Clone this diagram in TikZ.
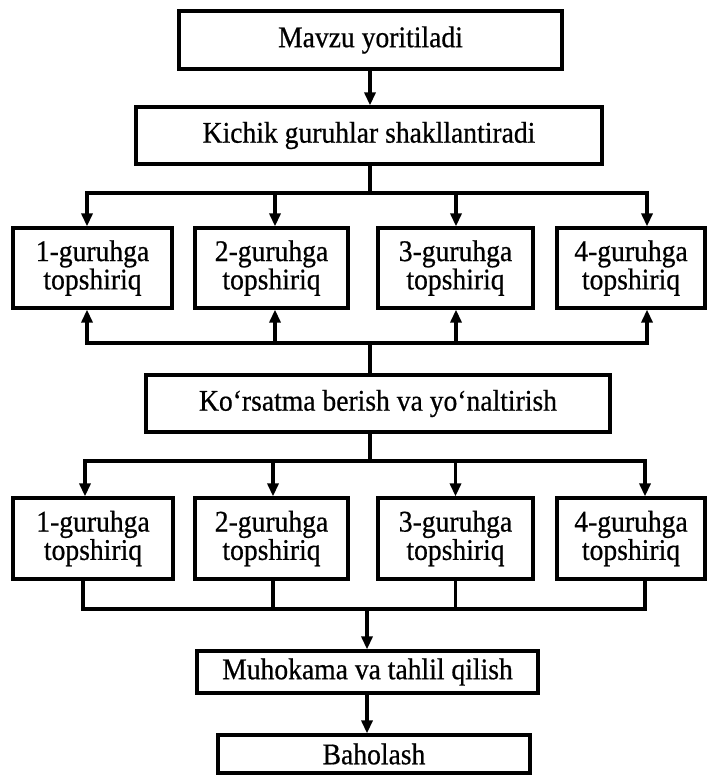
\documentclass[tikz,border=0pt]{standalone}
\usepackage{fontspec}
\setmainfont[FakeStretch=0.92,FakeBold=0.6]{Liberation Serif}
\usetikzlibrary{arrows.meta}
\begin{document}
\begin{tikzpicture}[x=1pt,y=-1pt,
  box/.style={draw,line width=3.2pt,inner sep=0pt,align=center,
    font=\fontsize{30}{25}\selectfont},
  conn/.style={line width=3.2pt},
  arr/.style={conn,-{Triangle[width=11pt,length=13pt]}}]
\useasboundingbox (0,0) rectangle (710,775);
% boxes
\node[box,minimum width=383pt,minimum height=58pt] (mavzu) at (370.5,40) {Mavzu yoritiladi};
\node[box,minimum width=466pt,minimum height=57pt] (kichik) at (369,135.5) {Kichik guruhlar shakllantiradi};
\node[box,minimum width=159pt,minimum height=80pt] (g1) at (92.5,268) {1-guruhga\\topshiriq};
\node[box,minimum width=153pt,minimum height=80pt] (g2) at (271.5,268) {2-guruhga\\topshiriq};
\node[box,minimum width=155pt,minimum height=80pt] (g3) at (455.5,268) {3-guruhga\\topshiriq};
\node[box,minimum width=148pt,minimum height=80pt] (g4) at (631,268) {4-guruhga\\topshiriq};
\node[box,minimum width=464pt,minimum height=57pt] (kors) at (378,403.5) {Ko‘rsatma berish va yo‘naltirish};
\node[box,minimum width=160pt,minimum height=81pt] (h1) at (93,538.5) {1-guruhga\\topshiriq};
\node[box,minimum width=153pt,minimum height=81pt] (h2) at (271.5,538.5) {2-guruhga\\topshiriq};
\node[box,minimum width=155pt,minimum height=81pt] (h3) at (455.5,538.5) {3-guruhga\\topshiriq};
\node[box,minimum width=148pt,minimum height=81pt] (h4) at (631,538.5) {4-guruhga\\topshiriq};
\node[box,minimum width=341pt,minimum height=42pt] (muh) at (367.5,672) {Muhokama va tahlil qilish};
\node[box,minimum width=312pt,minimum height=38pt] (bah) at (374,754) {Baholash};
% bus coordinates
\coordinate (b1) at (370,193);
\coordinate (b2) at (370,343);
\coordinate (b3) at (370,461);
\coordinate (b4) at (367,609);
% connectors
\draw[arr] (mavzu.south -| b1) -- (kichik.north -| b1);
\draw[conn] (kichik.south -| b1) -- (b1);
\draw[arr] (b1) -| ([xshift=-5.5pt]g1.north);
\draw[arr] (b1) -| ([xshift=3.5pt]g2.north);
\draw[arr] (b1) -| ([xshift=0.5pt]g3.north);
\draw[arr] (b1) -| ([xshift=16pt]g4.north);
\draw[conn] (kors.north -| b2) -- (b2);
\draw[arr] (b2) -| ([xshift=-5.5pt]g1.south);
\draw[arr] (b2) -| ([xshift=3.5pt]g2.south);
\draw[arr] (b2) -| ([xshift=0.5pt]g3.south);
\draw[arr] (b2) -| ([xshift=16pt]g4.south);
\draw[conn] (kors.south -| b3) -- (b3);
\draw[arr] (b3) -| ([xshift=-8pt]h1.north);
\draw[arr] (b3) -| ([xshift=1.5pt]h2.north);
\draw[arr] (b3) -| ([xshift=0pt]h3.north);
\draw[arr] (b3) -| ([xshift=14pt]h4.north);
\draw[conn] ([xshift=-10pt]h1.south) |- (b4);
\draw[conn] ([xshift=1.5pt]h2.south) |- (b4);
\draw[conn] ([xshift=0pt]h3.south) |- (b4);
\draw[conn] ([xshift=14pt]h4.south) |- (b4);
\draw[arr] (b4) -- (muh.north -| b4);
\draw[arr] (muh.south -| b4) -- (bah.north -| b4);
\end{tikzpicture}
\end{document}
